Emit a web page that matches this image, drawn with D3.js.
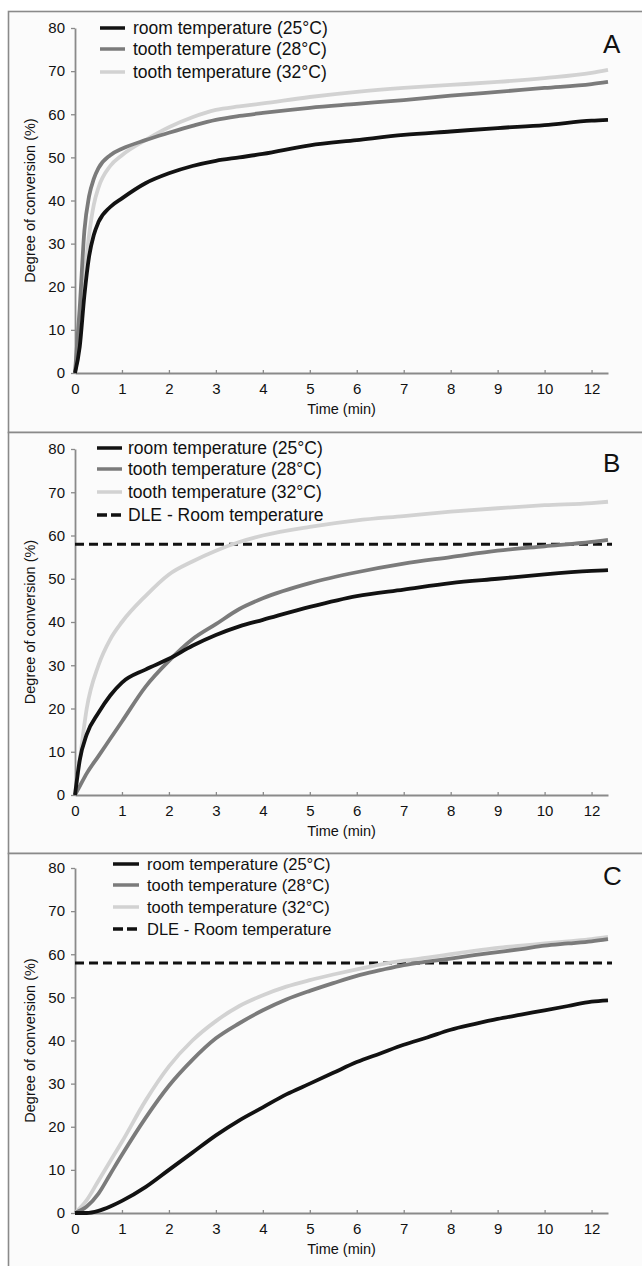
<!DOCTYPE html>
<html>
<head>
<meta charset="utf-8">
<script src="https://cdn.jsdelivr.net/npm/d3@7"></script>
<style>
  body { margin: 0; background: #fff; }
  text { font-family: "Liberation Sans", Arial, sans-serif; fill: #111; }
  .narrow { font-family: "Liberation Sans Narrow", "Arial Narrow", "Liberation Sans", sans-serif; font-stretch: condensed; }
</style>
</head>
<body>
<svg id="root"></svg>
<script>
// Degree of conversion vs time, three panels (A, B, C)

const seriesNames = ["room temperature (25°C)", "tooth temperature (28°C)", "tooth temperature (32°C)"];
const dleName = "DLE - Room temperature";
const dleValue = 58;
const xTickLabels = ["0", "1", "2", "3", "4", "5", "6", "7", "8", "9", "10", "12"];
const yTicks = [0, 10, 20, 30, 40, 50, 60, 70, 80];

// Panel A
const timeA = [0, 0.1, 0.2, 0.3, 0.4, 0.5, 0.75, 1, 1.5, 2, 2.5, 3, 3.5, 4, 5, 6, 7, 8, 9, 10, 11, 11.35];
const room25A = [0, 6, 18, 27, 32, 35, 38.5, 40.5, 44, 46.3, 48, 49.2, 50, 50.8, 52.8, 54, 55.2, 56, 56.8, 57.5, 58.5, 58.7];
const tooth28A = [0, 15, 33, 41, 45, 47.5, 50.5, 52, 54, 55.7, 57.3, 58.7, 59.6, 60.3, 61.5, 62.4, 63.3, 64.3, 65.2, 66.1, 67, 67.5];
const tooth32A = [0, 8, 22, 32, 39, 43, 48, 50.5, 54, 57, 59.3, 61, 61.8, 62.5, 64, 65.2, 66.1, 66.8, 67.5, 68.4, 69.6, 70.3];

// Panel B
const timeB = [0, 0.1, 0.25, 0.5, 0.75, 1, 1.5, 2, 2.5, 3, 3.5, 4, 5, 6, 7, 8, 9, 10, 11, 11.35];
const room25B = [0, 8, 14, 19, 23, 26, 29, 31.5, 34.5, 37, 39, 40.5, 43.5, 46, 47.5, 49, 50, 51, 51.8, 52];
const tooth28B = [0, 2, 5, 9, 13, 17, 25, 31, 36, 39.5, 43, 45.5, 49, 51.5, 53.5, 55, 56.5, 57.5, 58.5, 59];
const tooth32B = [0, 8, 20, 30, 36, 40, 46, 51, 54, 56.5, 58.5, 60, 62, 63.5, 64.5, 65.5, 66.3, 67, 67.5, 67.8];

// Panel C
const timeC = [0, 0.25, 0.5, 0.75, 1, 1.5, 2, 2.5, 3, 3.5, 4, 4.5, 5, 5.5, 6, 6.5, 7, 7.5, 8, 8.5, 9, 9.5, 10, 10.5, 11, 11.35];
const room25C = [0, 0, 0.5, 1.5, 2.8, 6, 10, 14, 18, 21.5, 24.5, 27.5, 30, 32.5, 35, 37, 39, 40.7, 42.5, 43.8, 45, 46, 47, 48, 49, 49.3];
const tooth28C = [0, 1.5, 4.5, 9, 13.5, 22, 29.5, 35.5, 40.5, 44, 47, 49.5, 51.5, 53.3, 55, 56.3, 57.5, 58.3, 59, 59.8, 60.5, 61.2, 62, 62.5, 63, 63.5];
const tooth32C = [0, 3, 7.5, 12, 16.5, 26, 34, 40, 44.5, 48, 50.5, 52.5, 54, 55.3, 56.5, 57.6, 58.5, 59.2, 60, 60.8, 61.5, 62, 62.5, 63, 63.5, 64];

const colors = ["#121212", "#7b7b7b", "#d2d2d2"];

const panels = [
  { label: "A", top: 11, time: timeA, series: [room25A, tooth28A, tooth32A], dle: false,
    yTop: 17, yZero: 362, legendRows: [17, 38, 61], lx: [100, 125, 133], legendFont: 17.5, labelY: 42 },
  { label: "B", top: 432, time: timeB, series: [room25B, tooth28B, tooth32B], dle: true,
    yTop: 17, yZero: 363, legendRows: [16, 37, 60, 83], lx: [97, 122, 128], legendFont: 17.5, labelY: 40 },
  { label: "C", top: 853, time: timeC, series: [room25C, tooth28C, tooth32C], dle: true,
    yTop: 15, yZero: 360, legendRows: [11, 32, 54, 76], lx: [113, 139, 147], legendFont: 16.5, labelY: 32 }
];

const W = 642, H = 1266;
const svg = d3.select("#root").attr("width", W).attr("height", H);

const xScale = d3.scaleLinear([0, 11.35], [75, 608]);

panels.forEach((p) => {
  const g = svg.append("g").attr("transform", `translate(0,${p.top})`);

  // frame
  g.append("rect")
    .attr("x", 8.5).attr("y", 0.5)
    .attr("width", 700).attr("height", 421)
    .attr("fill", "#fbfbfb")
    .attr("stroke", "#8a8a8a")
    .attr("stroke-width", 1.6);

  const yScale = d3.scaleLinear([0, 80], [p.yZero, p.yTop]);

  // axes
  const xAxis = d3.axisBottom(xScale)
    .tickValues(d3.range(xTickLabels.length))
    .tickFormat((d, i) => xTickLabels[i])
    .tickSizeInner(-3).tickSizeOuter(0).tickPadding(8);
  const gx = g.append("g").attr("transform", `translate(0,${p.yZero})`).call(xAxis);

  const yAxis = d3.axisLeft(yScale).tickValues(yTicks).tickSizeInner(4).tickSizeOuter(0).tickPadding(6);
  const gy = g.append("g").attr("transform", `translate(${xScale(0)},0)`).call(yAxis);

  [gx, gy].forEach((a) => {
    a.select(".domain").attr("stroke", "#8a8a8a").attr("stroke-width", 1.8);
    a.selectAll(".tick line").attr("stroke", "#8a8a8a").attr("stroke-width", 1.3);
    a.selectAll(".tick text").attr("font-size", 15).attr("fill", "#111")
      .attr("font-family", "'Liberation Sans', Arial, sans-serif");
  });
  gx.selectAll(".tick text").attr("dy", "0.85em");

  // axis titles
  g.append("text")
    .attr("class", "narrow")
    .attr("x", (xScale(0) + xScale(11.35)) / 2)
    .attr("y", p.yZero + 41)
    .attr("text-anchor", "middle")
    .attr("font-size", 14.5)
    .text("Time (min)");

  g.append("text")
    .attr("class", "narrow")
    .attr("transform", `translate(35,${(p.yTop + p.yZero) / 2}) rotate(-90)`)
    .attr("text-anchor", "middle")
    .attr("font-size", 14.5)
    .text("Degree of conversion (%)");

  // DLE reference line
  if (p.dle) {
    g.append("line")
      .attr("x1", xScale(0)).attr("x2", 612)
      .attr("y1", yScale(dleValue)).attr("y2", yScale(dleValue))
      .attr("stroke", "#111").attr("stroke-width", 3)
      .attr("stroke-dasharray", "9,5");
  }

  // series lines
  const line = d3.line()
    .x((d) => xScale(d[0]))
    .y((d) => yScale(d[1]))
    .curve(d3.curveMonotoneX);

  // draw light first so black sits on top
  [2, 1, 0].forEach((k) => {
    const pts = p.time.map((t, i) => [t, p.series[k][i]]);
    g.append("path")
      .datum(pts)
      .attr("fill", "none")
      .attr("stroke", colors[k])
      .attr("stroke-width", 3.8)
      .attr("stroke-linejoin", "round")
      .attr("d", line);
  });

  // legend
  const names = p.dle ? seriesNames.concat([dleName]) : seriesNames;
  names.forEach((name, i) => {
    const y = p.legendRows[i];
    const sample = g.append("line")
      .attr("x1", p.lx[0]).attr("x2", p.lx[1])
      .attr("y1", y).attr("y2", y)
      .attr("stroke-width", 3.5);
    if (i < 3) {
      sample.attr("stroke", colors[i]);
    } else {
      sample.attr("stroke", "#111").attr("stroke-dasharray", "10,4");
    }
    g.append("text")
      .attr("x", p.lx[2])
      .attr("y", y)
      .attr("dy", "0.36em")
      .attr("font-size", p.legendFont)
      .text(name);
  });

  // panel letter
  g.append("text")
    .attr("x", 603)
    .attr("y", p.labelY)
    .attr("font-size", 26)
    .text(p.label);
});
</script>
</body>
</html>
